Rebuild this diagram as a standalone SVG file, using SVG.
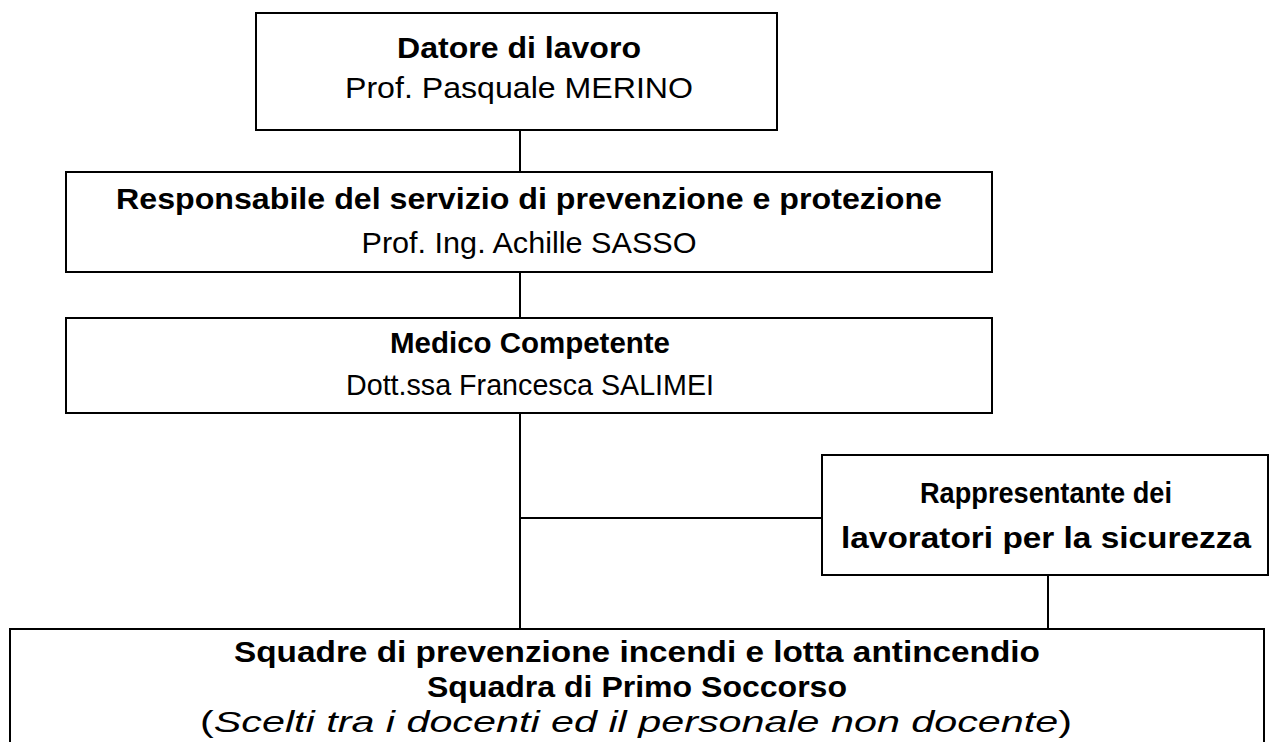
<svg xmlns="http://www.w3.org/2000/svg" width="1279" height="742" viewBox="0 0 1279 742">
<style>
rect.box{fill:#fff;stroke:#000;stroke-width:2}
.c line{stroke:#000;stroke-width:2}
text{font-family:"Liberation Sans",Arial,sans-serif;font-size:30px;fill:#000;text-anchor:middle}
.b{font-weight:bold}
.i{font-style:italic}
.s{font-size:29px}
.m{font-size:29px}
</style>
<rect width="1279" height="742" fill="#fff"/>
<g class="c" id="connectors">
<line x1="520" y1="130" x2="520" y2="172"/>
<line x1="520" y1="272" x2="520" y2="318"/>
<line x1="520" y1="413" x2="520" y2="629"/>
<line x1="520" y1="518" x2="822" y2="518"/>
<line x1="1048" y1="575" x2="1048" y2="629"/>
</g>
<g id="n1">
<rect class="box" x="256" y="13" width="521" height="117"/>
<text class="b" x="519" y="58" textLength="244" lengthAdjust="spacingAndGlyphs">Datore di lavoro</text>
<text x="519" y="98" textLength="348" lengthAdjust="spacingAndGlyphs">Prof. Pasquale MERINO</text>
</g>
<g id="n2">
<rect class="box" x="66" y="172" width="926" height="100"/>
<text class="b" x="529" y="209" textLength="826" lengthAdjust="spacingAndGlyphs">Responsabile del servizio di prevenzione e protezione</text>
<text x="529" y="253" textLength="335" lengthAdjust="spacingAndGlyphs">Prof. Ing. Achille SASSO</text>
</g>
<g id="n3">
<rect class="box" x="66" y="318" width="926" height="95"/>
<text class="b m" x="530" y="353" textLength="280" lengthAdjust="spacingAndGlyphs">Medico Competente</text>
<text x="530" y="395" textLength="368" lengthAdjust="spacingAndGlyphs">Dott.ssa Francesca SALIMEI</text>
</g>
<g id="n4">
<rect class="box" x="822" y="455" width="446" height="120"/>
<text class="b m" x="1046" y="503" textLength="252" lengthAdjust="spacingAndGlyphs">Rappresentante dei</text>
<text class="b" x="1046" y="548" textLength="410" lengthAdjust="spacingAndGlyphs">lavoratori per la sicurezza</text>
</g>
<g id="n5">
<rect class="box" x="10" y="629" width="1254" height="130"/>
<text class="b s" x="637" y="662" textLength="806" lengthAdjust="spacingAndGlyphs">Squadre di prevenzione incendi e lotta antincendio</text>
<text class="b s" x="637" y="697" textLength="420" lengthAdjust="spacingAndGlyphs">Squadra di Primo Soccorso</text>
<text class="s" x="636" y="732" textLength="872" lengthAdjust="spacingAndGlyphs">(<tspan class="i">Scelti tra i docenti ed il personale non docente</tspan>)</text>
</g>
</svg>
